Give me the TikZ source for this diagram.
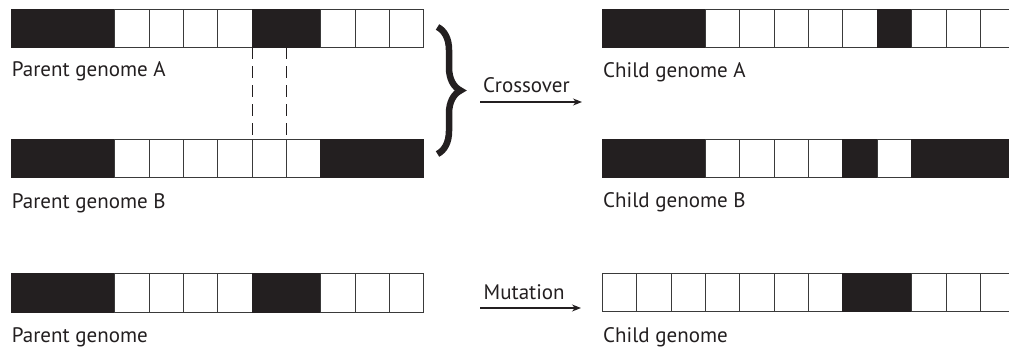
\documentclass[tikz,border=0pt]{standalone}
\usepackage{fontspec}
\setmainfont{PT Sans}
\usetikzlibrary{decorations.pathreplacing,arrows.meta}
\definecolor{ink}{HTML}{231F20}
\definecolor{rule}{HTML}{3A3A3A}

% one genome: name, left x, top y, list of 0/1 genes
\newcommand\genomebar[4]{%
  \foreach \g [count=\i] in {#4} {%
    \node[cell, gene\g] (#1-\i) at ({#2+(\i-1)*34.35},#3) {};%
  }%
}

\begin{document}
\begin{tikzpicture}[x=1pt,y=-1pt,
  cell/.style={draw=rule, line width=1pt, anchor=north west, inner sep=0pt,
    outer sep=0pt, minimum width=34.35pt, minimum height=38pt},
  gene0/.style={fill=white},
  gene1/.style={fill=ink, draw=ink},
  lab/.style={anchor=base west, inner sep=0pt, text=ink,
    font=\fontsize{21}{25}\selectfont},
  cut/.style={draw=ink, line width=0.9pt, dash pattern=on 12pt off 7pt},
  op/.style={draw=ink, line width=1.1pt, -{Stealth[length=9pt,width=7pt]}},
  bracket/.style={draw=ink, line width=6.5pt, decorate,
    decoration={brace, amplitude=23pt, aspect=0.5}}]
\useasboundingbox (0,0) rectangle (1009,347);

% crossover: parents
\genomebar{pa}{11.7}{9.5}{1,1,1,0,0,0,0,1,1,0,0,0}
\node[lab] (pal) at (11.7,77) {Parent genome A};
\genomebar{pb}{11.7}{140}{1,1,1,0,0,0,0,0,0,1,1,1}
\node[lab] (pbl) at (11.7,209) {Parent genome B};

% crossover region
\draw[cut] (pa-8.south west) -- (pb-8.north west);
\draw[cut] (pa-8.south east) -- (pb-8.north east);

% grouping brace and operator arrow
\coordinate (brtop) at (437.5,27);
\coordinate (brbot) at (437.5,154);
\draw[bracket] (brtop) -- (brbot);
\coordinate (xs) at (480,102);
\coordinate (xe) at (582,102);
\draw[op] (xs) -- (xe);
\node[lab] (xl) at (483,93) {Crossover};

% crossover: children
\genomebar{ca}{602.5}{9.5}{1,1,1,0,0,0,0,0,1,0,0,0}
\node[lab] (cal) at (603,78) {Child genome A};
\genomebar{cb}{602.5}{140}{1,1,1,0,0,0,0,1,0,1,1,1}
\node[lab] (cbl) at (603,208) {Child genome B};

% mutation
\genomebar{pm}{11.7}{274}{1,1,1,0,0,0,0,1,1,0,0,0}
\node[lab] (pml) at (11.7,342) {Parent genome};
\coordinate (ms) at (480,308);
\coordinate (me) at (581,308);
\draw[op] (ms) -- (me);
\node[lab] (ml) at (483.5,299) {Mutation};
\genomebar{cm}{602.5}{273.5}{0,0,0,0,0,0,0,1,1,0,0,0}
\node[lab] (cml) at (603,342) {Child genome};
\end{tikzpicture}
\end{document}
